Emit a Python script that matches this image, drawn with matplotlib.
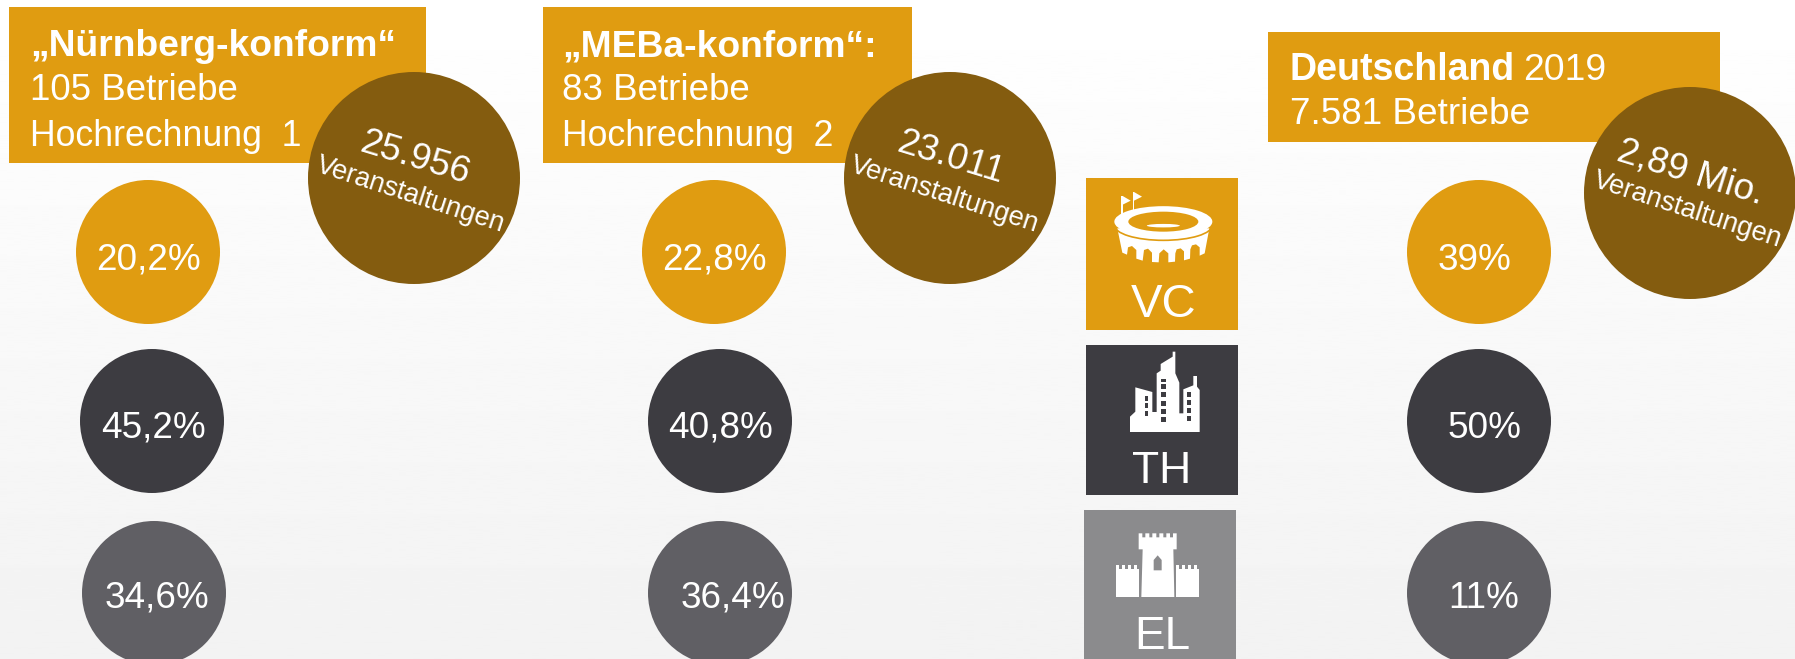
import numpy as np
import matplotlib
matplotlib.use("Agg")
import matplotlib.pyplot as plt
from matplotlib.patches import Circle, Ellipse, Polygon, Rectangle, Arc

plt.rcParams['font.family'] = ['Liberation Sans', 'DejaVu Sans']

ORANGE = "#E09C11"
BROWN = "#845C0F"
DARK = "#3D3C41"
GRAY = "#605F64"
SQUARE_GRAY = "#8B8B8D"

# Spalten
titles = ["„Nürnberg-konform“", "„MEBa-konform“:"]
betriebe = ["105 Betriebe", "83 Betriebe"]
hochrechnung = ["Hochrechnung  1", "Hochrechnung  2"]
de_title = "Deutschland"
de_year = "2019"
de_betriebe = "7.581 Betriebe"

vc_values = ["20,2%", "22,8%", "39%"]
th_values = ["45,2%", "40,8%", "50%"]
el_values = ["34,6%", "36,4%", "11%"]
event_values = ["25.956", "23.011", "2,89 Mio."]
event_label = "Veranstaltungen"
square_labels = ["VC", "TH", "EL"]

fig = plt.figure(figsize=(17.95, 6.59), dpi=100)
ax = fig.add_axes([0, 0, 1, 1])
ax.set_xlim(0, 1795)
ax.set_ylim(659, 0)
ax.axis("off")

# Hintergrund: heller Verlauf nach unten
grad = np.linspace(1.0, 0.95, 256).reshape(-1, 1)
ax.imshow(grad, cmap="gray", vmin=0, vmax=1, extent=[0, 1795, 659, 0], aspect="auto", zorder=0)

# Kopfboxen
ax.add_patch(Rectangle((9, 7), 417, 156, color=ORANGE, lw=0, zorder=1))
ax.add_patch(Rectangle((543, 7), 369, 156, color=ORANGE, lw=0, zorder=1))
ax.add_patch(Rectangle((1268, 32), 452, 110, color=ORANGE, lw=0, zorder=1))

text_x = [30, 562]
for i in range(2):
    ax.text(text_x[i], 56, titles[i], color="white", fontsize=26.8, fontweight="bold", va="baseline", zorder=5)
    ax.text(text_x[i], 100, betriebe[i], color="white", fontsize=26.5, va="baseline", zorder=5)
    ax.text(text_x[i], 146, hochrechnung[i], color="white", fontsize=25.7, va="baseline", zorder=5)
ax.text(1290, 80, de_title, color="white", fontsize=27, fontweight="bold", va="baseline", zorder=5)
ax.text(1523, 80, de_year, color="white", fontsize=26.8, va="baseline", zorder=5)
ax.text(1290, 124, de_betriebe, color="white", fontsize=26.6, va="baseline", zorder=5)

# Prozent-Kreise
rows = [
    (vc_values, ORANGE, [148, 714, 1479], [149, 714, 1475], 252, 270),
    (th_values, DARK, [152, 720, 1479], [154, 721, 1485], 421, 438),
    (el_values, GRAY, [154, 720, 1479], [157, 733, 1484], 593, 608),
]
for values, color, cx, tx, cy, base in rows:
    for j, val in enumerate(values):
        ax.add_patch(Circle((cx[j], cy), 72, color=color, lw=0, zorder=2))
        ax.text(tx[j], base, val, color="white", fontsize=26.6, ha="center", va="baseline", zorder=5)

# Veranstaltungen-Kreise
event_cx = [414, 950, 1690]
event_cy = [178, 178, 193]
label_dx = [-6, -8, -5]
for j, val in enumerate(event_values):
    ax.add_patch(Circle((event_cx[j], event_cy[j]), 106, color=BROWN, lw=0, zorder=3))
    ax.text(event_cx[j] - 2, event_cy[j] - 11, val, color="white", fontsize=26.6, rotation=-17,
            rotation_mode="anchor", ha="center", va="baseline", zorder=5)
    ax.text(event_cx[j] + label_dx[j], event_cy[j] + 24, event_label, color="white", fontsize=19.6, rotation=-18,
            rotation_mode="anchor", ha="center", va="baseline", zorder=5)

# Quadrate in der Mitte
ax.add_patch(Rectangle((1086, 178), 152, 152, color=ORANGE, lw=0, zorder=1))
ax.add_patch(Rectangle((1086, 345), 152, 150, color=DARK, lw=0, zorder=1))
ax.add_patch(Rectangle((1084, 510), 152, 149, color=SQUARE_GRAY, lw=0, zorder=1))
ax.text(1164, 317, square_labels[0], color="white", fontsize=34, ha="center", va="baseline", zorder=5)
ax.text(1162, 483, square_labels[1], color="white", fontsize=32, ha="center", va="baseline", zorder=5)
ax.text(1162, 649, square_labels[2], color="white", fontsize=33, ha="center", va="baseline", zorder=5)


def zp(points):
    # Icon-Punkte aus dem 3x-Ausschnitt in Bildpixel umrechnen
    return [(1060 + x / 3, 160 + y / 3) for x, y in points]


def icon_poly(points, color="white"):
    ax.add_patch(Polygon(zp(points), closed=True, color=color, lw=0, zorder=4))


def icon_rect(x0, y0, x1, y1, color="white"):
    icon_poly([(x0, y0), (x1, y0), (x1, y1), (x0, y1)], color)


# Stadion
stadium_body = [(172, 205), (448, 205), (434, 280), (419, 287), (419, 262), (408, 253), (396, 256), (391, 268),
                (390, 296), (372, 301), (372, 274), (362, 265), (350, 268), (346, 280), (345, 305), (325, 307),
                (325, 280), (311, 268), (298, 280), (296, 307), (276, 306), (276, 278), (264, 266), (252, 270),
                (248, 302), (229, 296), (229, 270), (216, 258), (204, 262), (201, 284), (187, 278)]
icon_poly(stadium_body)
sx, sy = zp([(310, 185)])[0]
ax.add_patch(Arc(zp([(310, 196)])[0], 98, 30, theta1=0, theta2=180, color=ORANGE, lw=1.2, zorder=4.2))
ax.add_patch(Ellipse((sx, sy), 98, 31, color="white", lw=0, zorder=4.1))
ax.add_patch(Ellipse((sx, sy), 70, 20, color=ORANGE, lw=0, zorder=4.3))
ax.add_patch(Ellipse(zp([(310, 197)])[0], 33, 3.5, color="white", lw=0, zorder=4.4))
icon_rect(184, 108, 188, 165)
icon_rect(218, 96, 222, 152)
icon_poly([(188, 108), (212, 122), (188, 134)])
icon_poly([(222, 96), (246, 110), (222, 122)])

# Stadt
icon_poly([(210, 816), (210, 770), (226, 755), (226, 682), (277, 696), (277, 756), (290, 756),
           (290, 640), (302, 632), (302, 612), (338, 590), (338, 575), (346, 575), (346, 640),
           (358, 668), (358, 760), (370, 760), (370, 688), (400, 676), (400, 648), (411, 648),
           (411, 680), (419, 690), (419, 816)])
for wx0, wx1, wy in [(254, 264, 708), (254, 264, 730), (254, 264, 752),
                     (303, 319, 672), (303, 319, 697), (303, 319, 722), (303, 319, 747), (303, 319, 771),
                     (381, 393, 696), (381, 393, 720), (381, 393, 744), (381, 393, 769)]:
    icon_rect(wx0, wy, wx1, wy + 15, DARK)
icon_rect(303, 657, 319, 665, DARK)

# Burg
icon_poly([(236, 1120), (247, 1120), (247, 1132), (256, 1132), (256, 1120), (268, 1120), (268, 1132),
           (277, 1132), (277, 1120), (289, 1120), (289, 1132), (298, 1132), (298, 1120), (310, 1120),
           (310, 1132), (319, 1132), (319, 1120), (330, 1120), (330, 1132), (339, 1132), (339, 1120),
           (350, 1120), (350, 1168), (340, 1168), (343, 1311), (244, 1311), (248, 1168), (236, 1168)])
icon_poly([(281, 1231), (281, 1200), (293, 1186), (305, 1200), (305, 1231)], SQUARE_GRAY)
for left in [169, 349]:
    points = []
    for k in range(4):
        x0 = left + k * 18
        points += [(x0, 1216), (x0 + 9, 1216), (x0 + 9, 1226), (x0 + 18, 1226)]
    points[-1] = (left + 69, 1226)
    points += [(left + 69, 1311), (left, 1311)]
    icon_poly(points)

plt.savefig("out.png", dpi=100)
plt.close()
